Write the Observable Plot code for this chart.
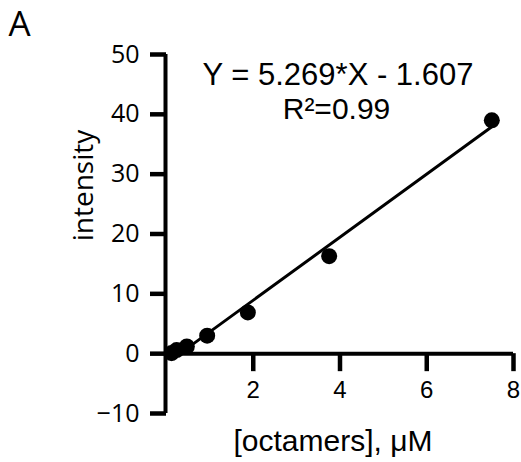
<!DOCTYPE html>
<html><head><meta charset="utf-8">
<script src="https://cdn.jsdelivr.net/npm/d3@7"></script>
<script src="https://cdn.jsdelivr.net/npm/@observablehq/plot@0.6"></script>
<style>body{margin:0;background:#fff}</style>
</head><body><div id="chart"></div>
<script>
const panelLabel = "A";
const concentrations = [0.117, 0.234, 0.469, 0.9375, 1.875, 3.75, 7.5];
const intensities = [0.1, 0.6, 1.2, 3.0, 6.9, 16.3, 39.0];
const fitSlope = 5.269;
const fitIntercept = -1.607;
const fitLabel = "Y = 5.269*X - 1.607";
const r2Label = "R²=0.99";
const xTicks = [2, 4, 6, 8];
const yTicks = [-10, 0, 10, 20, 30, 40, 50];
const xDomain = [0, 8];
const xLabel = "[octamers], μM";
const yLabel = "intensity";

const W = 521, H = 462, mt = 54, mb = 49, ml = 166, mr = 8;
const frameW = W - ml - mr;
const points = concentrations.map((x, i) => ({x, y: intensities[i]}));
const fitEnds = d3.extent(concentrations).map(x => ({x, y: fitSlope * x + fitIntercept}));
const yDomain = d3.extent(yTicks);
const pxPerY = (H - mt - mb) / (yDomain[1] - yDomain[0]);
const zeroFromTop = (yDomain[1] - 0) * pxPerY;
const zeroFromBottom = (0 - yDomain[0]) * pxPerY;
const yTickLen = 16, xTickLen = 18;

const plot = Plot.plot({
  width: W, height: H,
  marginTop: mt, marginBottom: mb, marginLeft: ml, marginRight: mr,
  style: {background: "white", color: "black", overflow: "visible"},
  x: {domain: xDomain, axis: null},
  y: {domain: yDomain, axis: null},
  marks: [
    Plot.ruleX([0], {y1: yDomain[0], y2: yDomain[1], strokeWidth: 4, dx: -1}),
    Plot.ruleY([0], {x1: xDomain[0], x2: xDomain[1], strokeWidth: 4}),
    Plot.tickY(yTicks, {y: d => d, insetLeft: -yTickLen, insetRight: frameW, strokeWidth: 4.5}),
    Plot.tickX(xTicks, {x: d => d, insetTop: zeroFromTop, insetBottom: zeroFromBottom - xTickLen, strokeWidth: 4.5}),
    Plot.axisY(yTicks, {tickSize: 0, tickPadding: yTickLen + 11, fontSize: 25, fontFamily: "Open Sans", label: null}),
    Plot.axisX(xTicks, {tickSize: 0, tickPadding: xTickLen + 9, dy: -zeroFromBottom, fontSize: 24, fontFamily: "Liberation Sans", label: null}),
    Plot.line(fitEnds, {x: "x", y: "y", strokeWidth: 3}),
    Plot.dot(points, {x: "x", y: "y", r: 8, fill: "black"}),
    Plot.text([panelLabel], {frameAnchor: "top-left", textAnchor: "start", lineAnchor: "bottom", dx: -158, dy: -19, fontSize: 35, fontFamily: "Open Sans"}),
    Plot.text([fitLabel], {frameAnchor: "top", textAnchor: "middle", lineAnchor: "bottom", dx: -2, dy: 30, fontSize: 31, fontFamily: "Liberation Sans"}),
    Plot.text([r2Label], {frameAnchor: "top", textAnchor: "middle", lineAnchor: "bottom", dx: -3.5, dy: 64, fontSize: 30, fontFamily: "Liberation Sans"}),
    Plot.text([xLabel], {frameAnchor: "bottom", textAnchor: "middle", lineAnchor: "bottom", dx: -7, dy: 37, fontSize: 30, fontFamily: "Liberation Sans"}),
    Plot.text([yLabel], {frameAnchor: "left", textAnchor: "middle", lineAnchor: "middle", rotate: -90, dx: -82, dy: -48.5, fontSize: 28, fontFamily: "Open Sans"})
  ]
});
document.getElementById("chart").appendChild(plot);
</script>
</body></html>
